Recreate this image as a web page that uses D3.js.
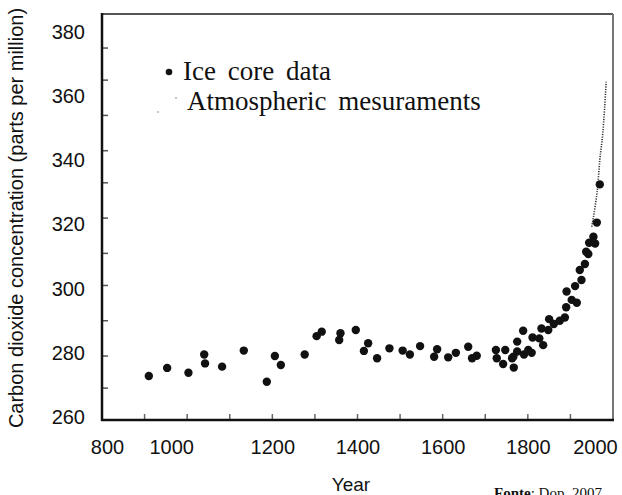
<!DOCTYPE html>
<html>
<head>
<meta charset="utf-8">
<script src="https://cdn.jsdelivr.net/npm/d3@7"></script>
<style>
  body { margin: 0; background: #fff; }
  svg { display: block; }
</style>
</head>
<body>
<div id="chart"></div>
<script>
// ice core data (year, ppm)
const iceYears = [910, 953, 1003, 1040, 1042, 1082, 1133, 1187, 1206, 1220,
  1276, 1304, 1316, 1360, 1357, 1396, 1425, 1415, 1446, 1475, 1506, 1523, 1547,
  1587, 1580, 1613, 1631, 1660, 1680, 1669, 1725, 1747, 1727, 1742, 1763, 1767,
  1775, 1775, 1791, 1789, 1801, 1766, 1809, 1811, 1827, 1836, 1832, 1850, 1848,
  1861, 1875, 1887, 1890, 1903, 1891, 1915, 1911, 1926, 1922, 1934, 1942, 1937,
  1944, 1954, 1958, 1962, 1969];
const iceValues = [272.8, 275.3, 273.8, 279.5, 276.7, 275.7, 280.7, 271.0, 279.0, 276.2,
  279.5, 285.2, 286.6, 286.1, 284.0, 287.1, 283.0, 280.6, 278.3, 281.4, 280.7, 279.5, 282.1,
  281.1, 278.8, 278.6, 280.0, 281.9, 279.1, 278.3, 280.9, 280.9, 278.3, 276.5, 278.3, 275.4,
  280.4, 283.5, 279.5, 286.9, 280.9, 278.8, 280.0, 284.8, 284.5, 282.4, 287.6, 290.5, 287.1,
  289.0, 290.0, 291.0, 294.2, 296.5, 299.1, 295.6, 300.8, 302.7, 305.8, 307.7, 310.8, 311.5,
  314.3, 316.2, 314.1, 320.6, 332.5];

// atmospheric measurements
const atmYears = [1950, 1958, 1964, 1969, 1976, 1980, 1984];
const atmValues = [319.3, 325.6, 331.8, 340.1, 348.4, 355.7, 364.5];

// axis labels and the small inner ticks
const xTickLabels = [800, 1000, 1200, 1400, 1600, 1800, 2000];
const yTickLabels = [260, 280, 300, 320, 340, 360, 380];
const xMinorTicks = [900, 1000, 1100, 1200, 1300, 1400, 1500, 1600, 1700, 1800, 1900];
const yMinorTicks = [269, 279, 290, 301, 311, 322, 333, 343, 354, 365, 375];

const legendItems = ['Ice core data', 'Atmospheric mesuraments'];

const W = 622, H = 495;
const frame = { left: 102, right: 613, top: 14, bottom: 420 };

const x = d3.scaleLinear().domain([800, 2000]).range([frame.left, frame.right]);
const y = d3.scaleLinear().domain([260, 380]).range([417, 32]);

const svg = d3.select('#chart').append('svg').attr('width', W).attr('height', H);

// frame: top/right grey, left/bottom black
svg.append('line').attr('x1', frame.left).attr('x2', frame.right)
  .attr('y1', frame.top).attr('y2', frame.top)
  .attr('stroke', '#555').attr('stroke-width', 2);
svg.append('line').attr('x1', frame.right).attr('x2', frame.right)
  .attr('y1', frame.top).attr('y2', frame.bottom)
  .attr('stroke', '#777').attr('stroke-width', 2);

// minor ticks (inside)
svg.append('g').selectAll('line').data(xMinorTicks).join('line')
  .attr('x1', d => x(d)).attr('x2', d => x(d))
  .attr('y1', frame.bottom).attr('y2', frame.bottom - 6)
  .attr('stroke', '#666').attr('stroke-width', 1.5);
svg.append('g').selectAll('line').data(yMinorTicks).join('line')
  .attr('x1', frame.left).attr('x2', frame.left + 6)
  .attr('y1', d => y(d)).attr('y2', d => y(d))
  .attr('stroke', '#555').attr('stroke-width', 1.5);

svg.append('line').attr('x1', frame.left).attr('x2', frame.left)
  .attr('y1', frame.top - 1).attr('y2', frame.bottom + 1)
  .attr('stroke', '#111').attr('stroke-width', 2.5);
svg.append('line').attr('x1', frame.left - 1).attr('x2', frame.right + 1)
  .attr('y1', frame.bottom).attr('y2', frame.bottom)
  .attr('stroke', '#111').attr('stroke-width', 2.5);

// axes (labels only)
const labelNudge = { 800: 5, 1000: -16, 2000: -18 };
const gx = svg.append('g').attr('transform', `translate(0,${frame.bottom})`)
  .call(d3.axisBottom(x).tickValues(xTickLabels).tickSize(0).tickPadding(20).tickFormat(d3.format('d')));
gx.select('.domain').remove();
gx.selectAll('text').attr('dx', d => labelNudge[d] || 0);

const gy = svg.append('g').attr('transform', `translate(${frame.left},0)`)
  .call(d3.axisLeft(y).tickValues(yTickLabels).tickSize(0).tickPadding(17));
gy.select('.domain').remove();

svg.selectAll('.tick text')
  .attr('font-family', '"Liberation Sans", Arial, sans-serif')
  .attr('font-size', 20).attr('fill', '#111');

// atmospheric: thin dotted curve
svg.append('path')
  .datum(atmYears.map((d, i) => [d, atmValues[i]]))
  .attr('d', d3.line().x(d => x(d[0])).y(d => y(d[1])).curve(d3.curveMonotoneX))
  .attr('fill', 'none').attr('stroke', '#333').attr('stroke-width', 1.6)
  .attr('stroke-dasharray', '1.2,1.3');

// ice core dots
svg.append('g').selectAll('circle').data(iceYears).join('circle')
  .attr('cx', d => x(d)).attr('cy', (d, i) => y(iceValues[i]))
  .attr('r', 4.2).attr('fill', '#111');

// legend
const legend = svg.append('g')
  .attr('font-family', '"Liberation Serif", "Times New Roman", serif')
  .attr('font-size', 27).attr('fill', '#111');
legend.append('circle').attr('cx', 169).attr('cy', 72).attr('r', 3.3).attr('fill', '#111');
legend.append('circle').attr('cx', 176).attr('cy', 98).attr('r', 0.7).attr('fill', '#666');
legend.append('circle').attr('cx', 158).attr('cy', 112).attr('r', 0.7).attr('fill', '#666');
legend.selectAll('text').data(legendItems).join('text')
  .attr('x', (d, i) => i === 0 ? 183 : 187)
  .attr('y', (d, i) => 80 + i * 30)
  .attr('word-spacing', 5)
  .text(d => d);

// axis titles
svg.append('text')
  .attr('transform', 'translate(23,218) rotate(-90)')
  .attr('text-anchor', 'middle')
  .attr('font-family', '"Liberation Sans", Arial, sans-serif')
  .attr('font-size', 20).attr('fill', '#111')
  .text('Carbon dioxide concentration (parts per million)');

svg.append('text')
  .attr('x', 351).attr('y', 491)
  .attr('text-anchor', 'middle')
  .attr('font-family', '"Liberation Sans", Arial, sans-serif')
  .attr('font-size', 19).attr('fill', '#111')
  .text('Year');

// source note
const src = svg.append('text')
  .attr('x', 494).attr('y', 498)
  .attr('font-family', '"Liberation Serif", "Times New Roman", serif')
  .attr('font-size', 15).attr('fill', '#111');
src.append('tspan').attr('font-weight', 'bold').text('Fonte');
src.append('tspan').text(': Dop, 2007');
</script>
</body>
</html>
